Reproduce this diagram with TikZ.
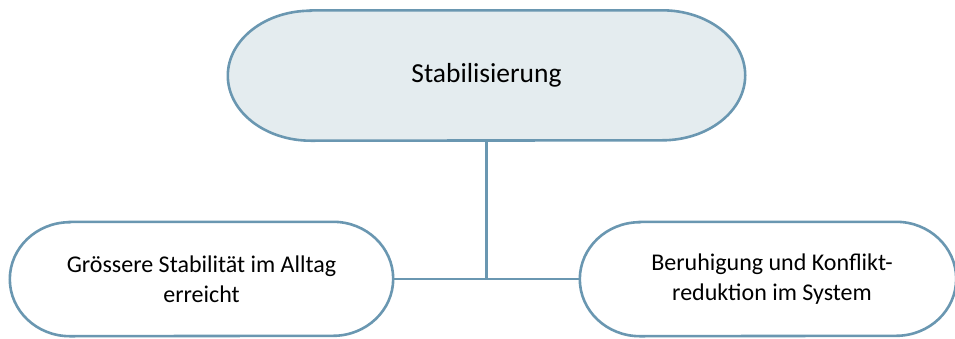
\documentclass[tikz,border=0pt]{standalone}
\usepackage{fontspec}
\setmainfont{Carlito}
\usetikzlibrary{backgrounds}
\definecolor{frameblue}{HTML}{6A97B1}
\definecolor{topfill}{HTML}{E4ECEF}
\tikzset{basic/.style={inner sep=0pt,align=center,text=black}}
\tikzset{topic/.style={basic,minimum width=517pt,minimum height=130pt,
                       font=\fontsize{27.5}{32}\selectfont}}
\tikzset{item/.style={basic,minimum height=114pt,
                      font=\fontsize{24}{29.5}\selectfont}}
\tikzset{pillline/.style={draw=frameblue,line width=2.6pt}}
\tikzset{link/.style={draw=frameblue,line width=2.2pt}}
% outline with elliptic ends: node, x radius, y radius
\newcommand{\pillpath}[4]{%
  \path[pillline,#4] ([xshift=#2]#1.north west) -- ([xshift=-#2]#1.north east)
     arc[start angle=90,end angle=-90,x radius=#2,y radius=#3]
     -- ([xshift=#2]#1.south west)
     arc[start angle=270,end angle=90,x radius=#2,y radius=#3] -- cycle;}

\begin{document}
\begin{tikzpicture}[x=1pt,y=-1pt]
    \useasboundingbox (0,0) rectangle (955,338);
    \clip (0,0) rectangle (955,338);

    % main topic
    \node[topic] (stab) at (486.5,75.5) {Stabilisierung};
    % outcomes
    \node[item,minimum width=383pt] (alltag) at (201.5,279)
        {Grössere Stabilität im Alltag\\erreicht};
    \node[item,minimum width=376pt] (system) at (768,279)
        {\hspace*{8pt}Beruhigung und Konflikt-\\\hspace*{8pt}reduktion im System};

    \begin{scope}[on background layer]
        \pillpath{stab}{83pt}{65pt}{fill=topfill}
        \pillpath{alltag}{60pt}{57pt}{fill=white}
        \pillpath{system}{60pt}{57pt}{fill=white}
    \end{scope}

    % connectors
    \draw[link] (stab.south) -- (stab.south |- alltag.east);
    \draw[link] (alltag.east) -- (system.west);
\end{tikzpicture}
\end{document}
